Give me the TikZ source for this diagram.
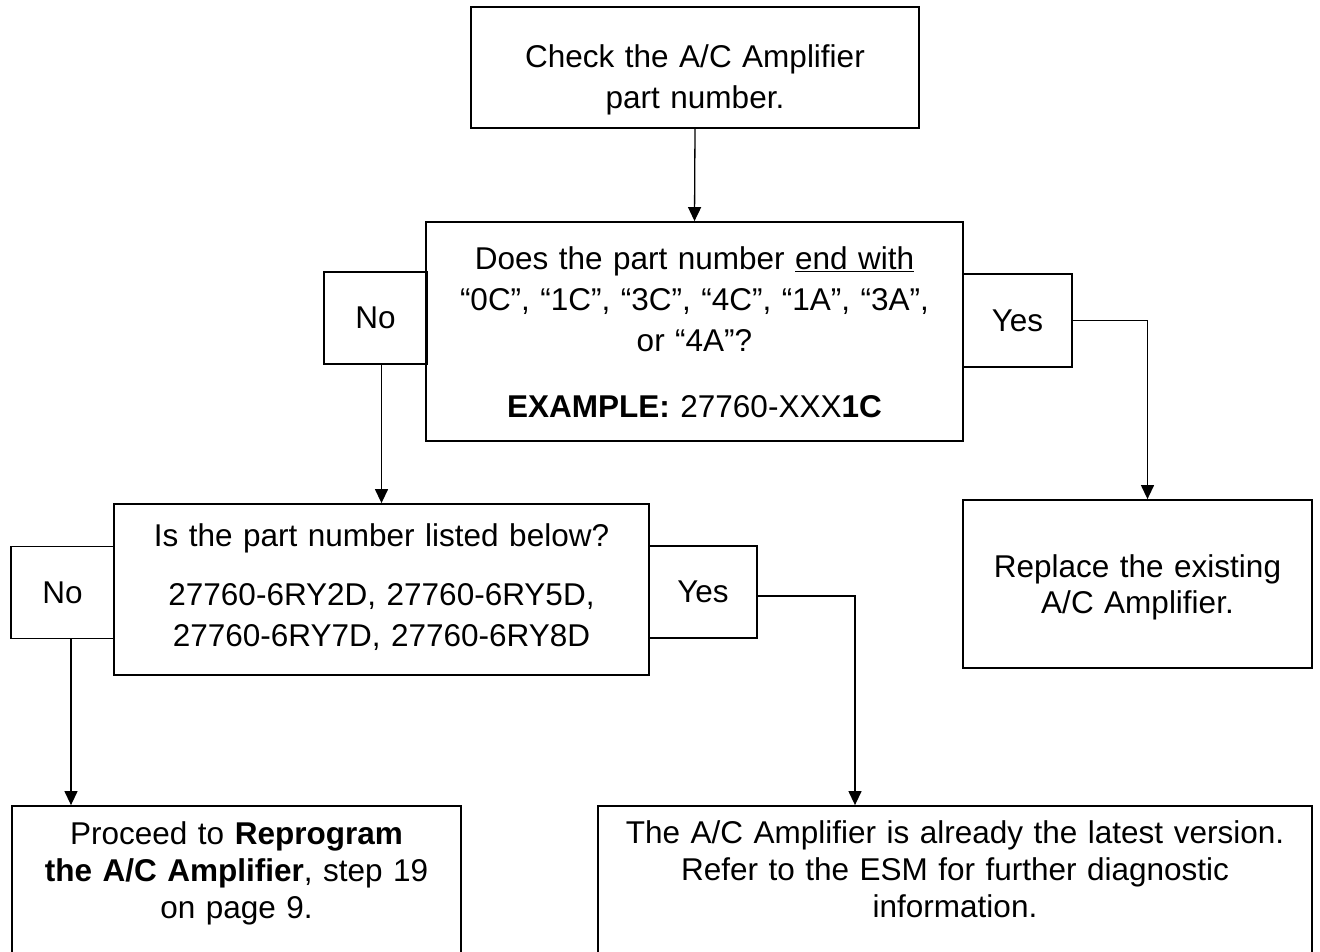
\documentclass[tikz,border=0pt]{standalone}
\usepackage{fontspec}
\setmainfont{Liberation Sans}
\usetikzlibrary{arrows.meta}

\begin{document}
\begin{tikzpicture}[x=1pt,y=-1pt,
  box/.style={draw, line width=1.8pt, inner sep=0pt, anchor=base, align=center,
    text width=#1, font=\fontsize{31.5}{41}\selectfont},
  answer/.style={draw, line width=1.8pt, inner sep=0pt, minimum width=#1,
    minimum height=92pt, font=\fontsize{31.5}{41}\selectfont},
  arr/.style={line width=1.3pt, -{Triangle[length=14pt,width=13pt]}}]
\useasboundingbox (0,0) rectangle (1320,951);

% first question
\node[box=448pt, text height=60pt, text depth=61pt] (check) at (695,67) {Check the A/C Amplifier\\part number.};
\node[box=537pt, text height=47pt, text depth=172pt] (q1) at (694.5,269)
  {Does the part number \underline{end with}\\“0C”, “1C”, “3C”, “4C”, “1A”, “3A”,\\or “4A”?\\[25pt]\textbf{EXAMPLE:} 27760-XXX\textbf{1C}};
\node[answer=103pt] (no1) at (375.5,318) {No};
\node[answer=109pt, minimum height=93pt] (yes1) at (1017.5,320.5) {Yes};
\node[box=349pt, text height=77pt, text depth=91pt, font=\fontsize{31.5}{36}\selectfont] (replace) at (1137.5,577)
  {Replace the existing\\A/C Amplifier.};

% second question
\node[box=535pt, text height=42pt, text depth=129pt] (listed) at (381.5,546)
  {Is the part number listed below?\\[18pt]27760-6RY2D, 27760-6RY5D,\\27760-6RY7D, 27760-6RY8D};
\node[answer=103pt] (no2) at (62.5,592.5) {No};
\node[answer=108pt] (yes2) at (703,592) {Yes};

% results, cut at the bottom
\node[box=449pt, text height=38pt, text depth=150pt, font=\fontsize{31.5}{37}\selectfont] (proceed) at (236.5,844)
  {Proceed to \textbf{Reprogram}\\\textbf{the A/C Amplifier}, step 19\\on page 9.};
\node[box=714pt, text height=37pt, text depth=150pt, font=\fontsize{31.5}{37}\selectfont] (latest) at (955,843)
  {The A/C Amplifier is already the latest version.\\Refer to the ESM for further diagnostic\\information.};

\draw[arr] (check.south) -- (q1.north);
\draw[arr] (no1.south -| listed.north) -- (listed.north);
\draw[arr] (yes1.east) -| ([xshift=10pt]replace.north);
\draw[arr] ([xshift=8.5pt]no2.south) -- ([xshift=8.5pt]no2.south |- proceed.north);
\draw[arr] ([yshift=-4pt]yes2.east) -| ([xshift=-100pt]latest.north);
\end{tikzpicture}
\end{document}
